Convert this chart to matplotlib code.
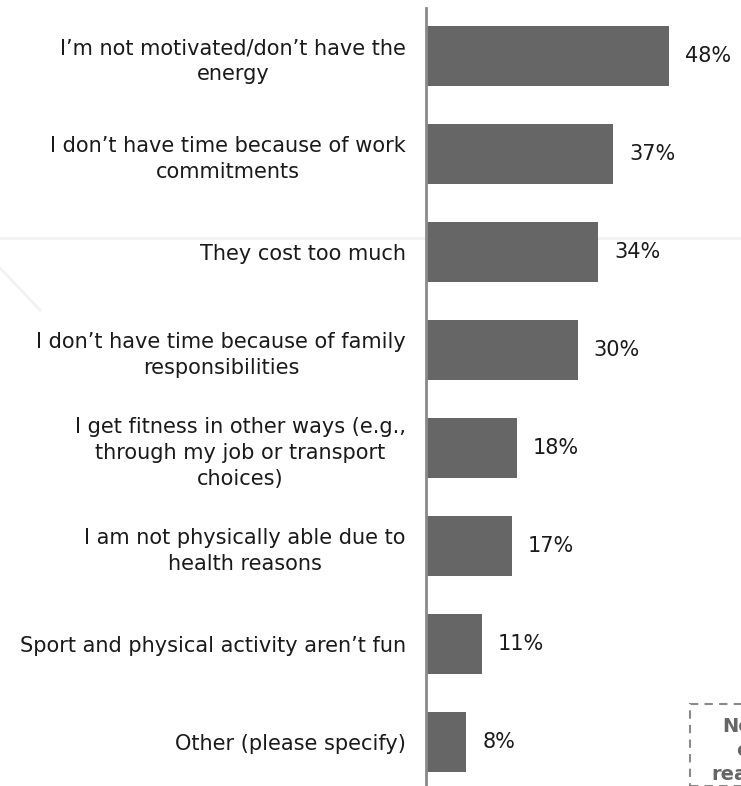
import matplotlib
matplotlib.use("Agg")
import matplotlib.pyplot as plt
from matplotlib.patches import Rectangle
from matplotlib.lines import Line2D

categories = [
    "I\u2019m not motivated/don\u2019t have the\nenergy",
    "I don\u2019t have time because of work\ncommitments",
    "They cost too much",
    "I don\u2019t have time because of family\nresponsibilities",
    "I get fitness in other ways (e.g.,\nthrough my job or transport\nchoices)",
    "I am not physically able due to\nhealth reasons",
    "Sport and physical activity aren\u2019t fun",
    "Other (please specify)",
]
values = [48, 37, 34, 30, 18, 17, 11, 8]

W, H = 741, 786
fig = plt.figure(figsize=(W / 100, H / 100), dpi=100)
fig.patch.set_facecolor("white")

# faint background watermark lines
fig.add_artist(Line2D([0, 1], [1 - 238 / H, 1 - 238 / H], color="#f2f2f2", lw=2, zorder=0))
fig.add_artist(Line2D([0, 40 / W], [1 - 268 / H, 1 - 310 / H], color="#f2f2f2", lw=2, zorder=0))

ax_left, ax_top = 426, 8
ax = fig.add_axes([ax_left / W, 0, 1 - ax_left / W, 1 - ax_top / H])
ax.set_facecolor("none")

y = list(range(len(values)))
ax.barh(y, values, height=0.61, color="#666666", zorder=2)
ax.set_ylim(7.449, -0.49)
ax.set_xlim(0, (W - ax_left) / 5.06)

for s in ["top", "right", "bottom"]:
    ax.spines[s].set_visible(False)
ax.spines["left"].set_color("#8a8a8a")
ax.spines["left"].set_linewidth(2)
ax.set_xticks([])
ax.set_yticks(y)
ax.set_yticklabels(categories, fontsize=15, color="#1a1a1a", linespacing=1.38,
                   family="DejaVu Sans", ha="right")
ax.tick_params(axis="y", length=0, pad=14.4)
for lbl in ax.get_yticklabels():
    lbl.set_multialignment("center")

for yi, v in zip(y, values):
    ax.annotate(f"{v}%", (v, yi), xytext=(16, 0), textcoords="offset pixels",
                va="center", ha="left", fontsize=15, color="#1a1a1a",
                family="DejaVu Sans")

# partially visible dashed note box at bottom right (clipped by the figure edge, as in the reference)
fig.add_artist(Rectangle((690 / W, 0), 200 / W, (H - 704) / H, transform=fig.transFigure,
                         fill=False, edgecolor="#8a8a8a", lw=1.5, linestyle=(0, (4, 3)),
                         zorder=3))
fig.text(722 / W, 1 - 727 / H, "Net", fontsize=14, fontweight="bold", color="#666666",
         va="center", ha="left")
fig.text(736 / W, 1 - 751 / H, "cost", fontsize=14, fontweight="bold", color="#666666",
         va="center", ha="left")
fig.text(711 / W, 1 - 775 / H, "reasons", fontsize=14, fontweight="bold", color="#666666",
         va="center", ha="left")

fig.savefig("out.png", dpi=100, facecolor="white")
